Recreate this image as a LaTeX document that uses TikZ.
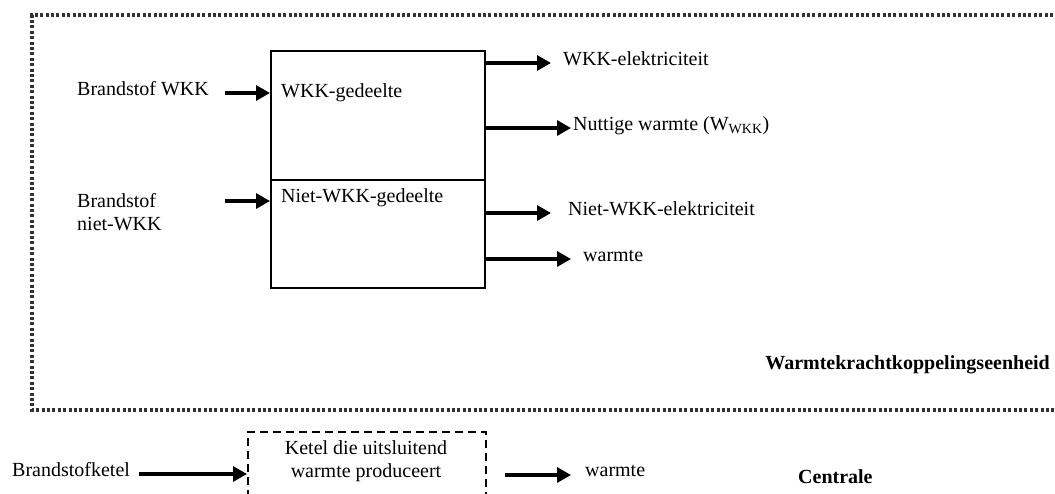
\documentclass[tikz,border=0pt]{standalone}
\usepackage{fontspec}
\setmainfont{Liberation Serif}
\usetikzlibrary{arrows.meta}
\begin{document}
\begin{tikzpicture}[x=1pt,y=-1pt,
  every node/.style={font=\fontsize{20}{23}\selectfont, inner sep=0pt, text height=1.4ex, text depth=0.3ex},
  part/.style={draw, line width=2.2pt, anchor=north west},
  arr/.style={line width=3.2pt, -{Triangle[length=14pt,width=15pt]}},
  lbl/.style={anchor=west},
  border/.style={draw=black!80, line width=3.4pt, dash pattern=on 3pt off 2.4pt},
  dbox/.style={draw, line width=2.4pt, dash pattern=on 8pt off 5pt, anchor=north west}]
\clip (0,0) rectangle (1055,493);
\fill[white] (0,0) rectangle (1055,493);
% outer unit border
\draw[border] (1080,15) -- (32,15) -- (32,410) -- (1080,410);
% main box parts
\node[part, minimum width=214pt, minimum height=129pt] (wkk) at (270,50) {};
\node[part, minimum width=214pt, minimum height=108pt] (niet) at (270,179) {};
\node[lbl] (twkk) at (281,95) {WKK-gedeelte};
\node[lbl] (tniet) at (281,200) {Niet-WKK-gedeelte};
% inputs
\node[lbl] (bwkk) at (77,93) {Brandstof WKK};
\node[lbl, align=left, text height=, text depth=] (bniet) at (77,212) {Brandstof\\niet-WKK};
\coordinate (i1) at (225,93);
\coordinate (i2) at (225,201);
\draw[arr] (i1) -- (i1 -| wkk.west);
\draw[arr] (i2) -- (i2 -| niet.west);
% outputs
\node[lbl] (o1) at (563,63) {WKK-elektriciteit};
\node[lbl] (o2) at (573,128) {Nuttige warmte (W\textsubscript{WKK})};
\node[lbl] (o3) at (568,213) {Niet-WKK-elektriciteit};
\node[lbl] (o4) at (583,259) {warmte};
\coordinate (e1) at (551,63);
\coordinate (e2) at (571,128);
\coordinate (e3) at (551,213);
\coordinate (e4) at (571,259);
\draw[arr] (e1 -| wkk.east) -- (e1);
\draw[arr] (e2 -| wkk.east) -- (e2);
\draw[arr] (e3 -| niet.east) -- (e3);
\draw[arr] (e4 -| niet.east) -- (e4);
\node[anchor=east, font=\fontsize{20}{23}\selectfont\bfseries] (unit) at (1050,367) {Warmtekrachtkoppelingseenheid};
% bottom: boiler
\node[dbox, minimum width=238pt, minimum height=90pt] (ketel) at (247,431) {};
\node[align=center, text height=, text depth=] (tketel) at (366,461) {Ketel die uitsluitend\\warmte produceert};
\node[lbl] (bketel) at (12,474) {Brandstofketel};
\coordinate (k1) at (139,474);
\draw[arr] (k1) -- (k1 -| ketel.west);
\coordinate (k2) at (505,475);
\coordinate (k3) at (571,475);
\draw[arr] (k2) -- (k3);
\node[lbl] (wbot) at (585,474) {warmte};
\node[anchor=west, font=\fontsize{20}{23}\selectfont\bfseries] (centrale) at (798,481) {Centrale};
\end{tikzpicture}
\end{document}
